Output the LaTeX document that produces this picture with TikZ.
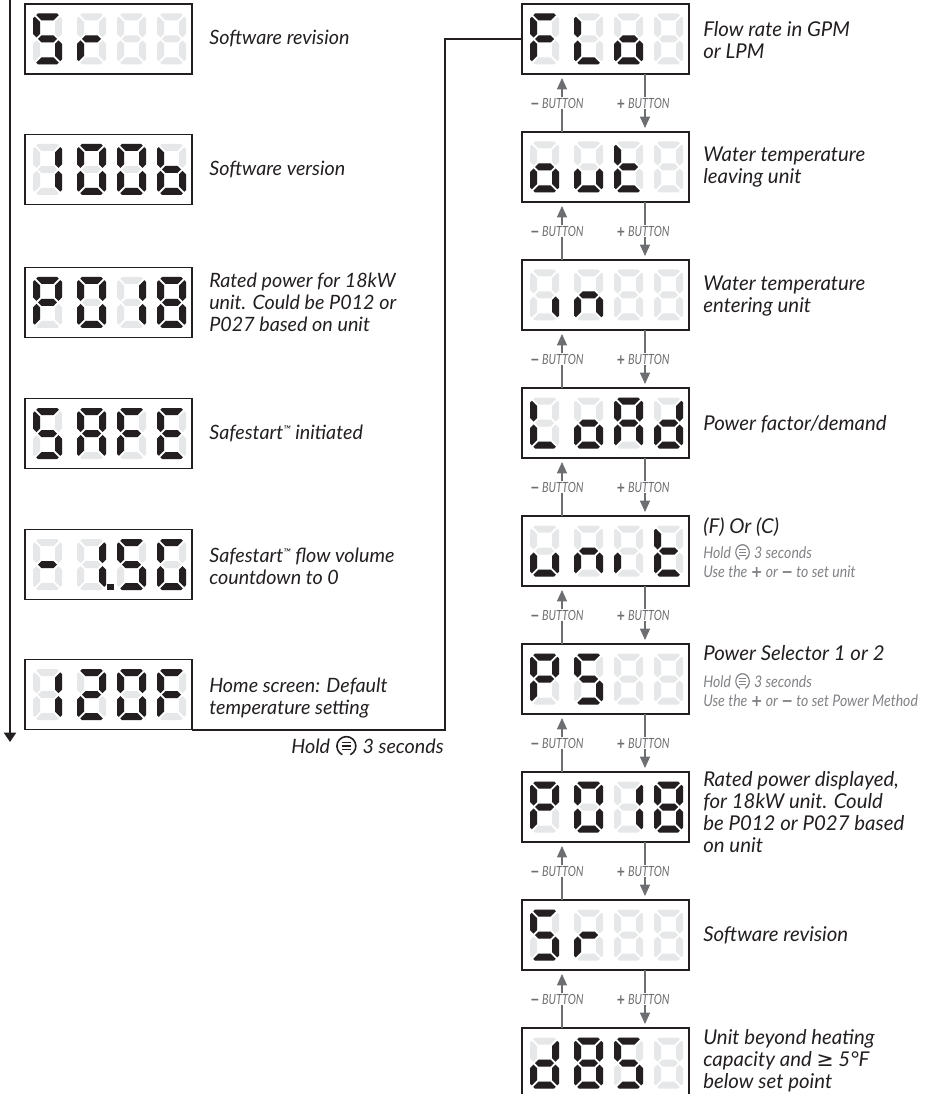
\documentclass[tikz,border=0pt]{standalone}
\usepackage{fontspec}
\setmainfont{Lato}
\newfontfamily\symfont{DejaVu Sans}
\usepackage{graphicx}
\usetikzlibrary{positioning,arrows.meta,calc}

\definecolor{ink}{HTML}{231F20}
\definecolor{segdim}{HTML}{E6E7E8}
\definecolor{btngray}{HTML}{6D6E71}
\definecolor{notegray}{HTML}{808285}

% seven segment outlines, digit box 29 x 51 (px), y grows downward
\newcommand{\defseg}[2]{\expandafter\def\csname segp#1\endcsname{#2}}
\defseg{a}{(3.25,1.75) -- (5,0) -- (24,0) -- (25.75,1.75) -- (20.5,7) -- (8.5,7) -- cycle}
\defseg{g}{(5,25.5) -- (8.5,22) -- (20.5,22) -- (24,25.5) -- (20.5,29) -- (8.5,29) -- cycle}
\defseg{d}{(3.25,49.25) -- (5,51) -- (24,51) -- (25.75,49.25) -- (20.5,44) -- (8.5,44) -- cycle}
\defseg{f}{(0,5) -- (0,20.5) -- (3.5,24) -- (7,20.5) -- (7,8.5) -- (1.75,3.25) -- cycle}
\defseg{e}{(0,46) -- (0,30.5) -- (3.5,27) -- (7,30.5) -- (7,42.5) -- (1.75,47.75) -- cycle}
\defseg{b}{(29,5) -- (29,20.5) -- (25.5,24) -- (22,20.5) -- (22,8.5) -- (27.25,3.25) -- cycle}
\defseg{c}{(29,46) -- (29,30.5) -- (25.5,27) -- (22,30.5) -- (22,42.5) -- (27.25,47.75) -- cycle}
\defseg{n}{}

\newcommand{\desctext}{\fontsize{14.8}{16.5}\selectfont\itshape}
\newcommand{\descrtext}{\fontsize{15.3}{16.6}\selectfont\itshape}
\newcommand{\notetext}{\fontsize{12}{14.25}\selectfont\itshape}
\newcommand{\narrow}[1]{\scalebox{0.88}[1]{#1}}
\newcommand{\tmark}{\raisebox{4.5pt}{\fontsize{8}{8}\selectfont ™}}
\newcommand{\bplus}{{\symfont\bfseries +}}
\newcommand{\bminus}{{\symfont\bfseries −}}
\newcommand{\menuicon}{\tikz[baseline=-0.35em]{%
  \draw[line width=0.08em] (-65:0.48em) arc (-65:245:0.48em);
  \foreach \yy in {-0.18,0,0.18} \draw[line width=0.07em] (-0.24em,\yy em) -- (0.24em,\yy em);}}

\tikzset{
  segon/.style={fill=ink},
  segoff/.style={fill=segdim},
  pics/segdigit/.style={code={
    \foreach \s in {a,b,c,d,e,f,g}{\expandafter\let\expandafter\curseg\csname segp\s\endcsname \fill[segoff] \curseg;}
    \foreach \s in {#1}{\expandafter\let\expandafter\curseg\csname segp\s\endcsname \fill[segon] \curseg;}
  }},
  disp/.style={draw=ink, line width=1.4pt, minimum width=125.25pt, minimum height=52.5pt, inner sep=0pt, outer sep=0pt},
  desc/.style={font=\desctext, text=ink, align=left, inner sep=0pt, anchor=west},
  descr/.style={desc, font=\descrtext},
  note/.style={font=\notetext, text=notegray, inner sep=0pt, anchor=base west},
  flowline/.style={draw=ink, line width=1.5pt},
  btnarrow/.style={draw=btngray, line width=0.8pt, -{Triangle[width=7.5pt,length=8.5pt]}, shorten >=3pt},
  btnlabel/.style={font=\fontsize{10.5}{12}\selectfont\itshape, text=btngray, fill=white, inner sep=1pt}
}

\newcommand{\showdigits}[5]{%
  \pic at ($(#1.north west)+(8,9.5)$) {segdigit={#2}};
  \pic at ($(#1.north west)+(52,9.5)$) {segdigit={#3}};
  \pic at ($(#1.north west)+(92,9.5)$) {segdigit={#4}};
  \pic at ($(#1.north west)+(132,9.5)$) {segdigit={#5}};
}

\begin{document}
\begin{tikzpicture}[x=0.75pt,y=-0.75pt]
  \useasboundingbox (0,0) rectangle (930,1094);

  % start-up sequence
  \node[disp] (lsr) at (108.5,39) {};
  \node[disp] (lver) at (108.5,169.5) {};
  \node[disp] (lrate) at (108.5,302.5) {};
  \node[disp] (lsafe) at (108.5,433.5) {};
  \node[disp] (lcount) at (108.5,564.5) {};
  \node[disp] (lhome) at (108.5,694.5) {};
  \showdigits{lsr}{a,f,g,c,d}{e,g}{n}{n}
  \showdigits{lver}{b,c}{a,b,c,d,e,f}{a,b,c,d,e,f}{c,d,e,f,g}
  \showdigits{lrate}{a,b,e,f,g}{a,b,c,d,e,f}{b,c}{a,b,c,d,e,f,g}
  \showdigits{lsafe}{a,f,g,c,d}{a,b,c,e,f,g}{a,e,f,g}{a,d,e,f,g}
  \showdigits{lcount}{g}{b,c}{a,f,g,c,d}{a,c,d,e,f}
  \fill[segon] ($(lcount.north west)+(82,54)$) rectangle +(6.5,6.5);
  \showdigits{lhome}{b,c}{a,b,g,e,d}{a,b,c,d,e,f}{a,e,f,g}

  \node[desc] (tsr) at (209,39) {Software revision};
  \node[desc] (tver) at (209,169.5) {Software version};
  \node[desc] (trate) at (209,302.5) {Rated power for 18kW\\unit. Could be P012 or\\P027 based on unit};
  \node[desc] (tsafe) at (209,433.5) {Safestart\tmark\ initiated};
  \node[desc] (tcount) at (209,566) {Safestart\tmark\ flow volume\\countdown to 0};
  \node[desc] (thome) at (209,698) {Home screen: Default\\temperature setting};

  \coordinate (ltop) at (10,0);
  \coordinate (lend) at (10,742);
  \draw[flowline,-{Triangle[width=9pt,length=7pt]}] (ltop) -- (lend);

  % menu list
  \node[disp] (flo) at (605.5,39) {};
  \node[disp] (outw) at (605.5,167) {};
  \node[disp] (inw) at (605.5,295) {};
  \node[disp] (load) at (605.5,423) {};
  \node[disp] (unit) at (605.5,551) {};
  \node[disp] (psel) at (605.5,679) {};
  \node[disp] (rpow) at (605.5,807) {};
  \node[disp] (srev) at (605.5,935) {};
  \node[disp] (dbs) at (605.5,1063) {};
  \showdigits{flo}{a,e,f,g}{d,e,f}{c,d,e,g}{n}
  \showdigits{outw}{c,d,e,g}{c,d,e}{d,e,f,g}{n}
  \showdigits{inw}{c}{c,e,g}{n}{n}
  \showdigits{load}{d,e,f}{c,d,e,g}{a,b,c,e,f,g}{b,c,d,e,g}
  \showdigits{unit}{c,d,e}{c,e,g}{e}{d,e,f,g}
  \showdigits{psel}{a,b,e,f,g}{a,f,g,c,d}{n}{n}
  \showdigits{rpow}{a,b,e,f,g}{a,b,c,d,e,f}{b,c}{a,b,c,d,e,f,g}
  \showdigits{srev}{a,f,g,c,d}{e,g}{n}{n}
  \showdigits{dbs}{b,c,d,e,g}{a,b,c,d,e,f,g}{a,f,g,c,d}{n}

  \draw[flowline] (lhome.south east) -- ++(253,0) |- (flo.west);
  \node[font=\desctext, text=ink, inner sep=0pt, anchor=base east] (hold) at (444,753) {Hold \menuicon\ 3 seconds};

  \foreach \a/\b in {flo/outw,outw/inw,inw/load,load/unit,unit/psel,psel/rpow,rpow/srev,srev/dbs}{
    \draw[btnarrow] ($(\b.north)+(-43.5,0)$) -- ($(\a.south)+(-43.5,0)$)
      node[btnlabel, midway, xshift=-3.75pt] {\scalebox{0.78}[1]{\bminus\ BUTTON}};
    \draw[btnarrow] ($(\a.south)+(39.5,0)$) -- ($(\b.north)+(39.5,0)$)
      node[btnlabel, midway, xshift=-1.5pt] {\scalebox{0.78}[1]{\bplus\ BUTTON}};
  }

  \node[descr] (tflo) at (703,40) {Flow rate in GPM\\or LPM};
  \node[descr] (toutw) at (703,167) {Water temperature\\leaving unit};
  \node[descr] (tinw) at (703,296) {Water temperature\\entering unit};
  \node[descr] (tload) at (703,424) {Power factor/demand};
  \node[descr, anchor=base west] (tunit) at (703,533) {(F) Or (C)};
  \node[note] (hunit) at (703,558) {\narrow{Hold \menuicon\ 3 seconds}};
  \node[note] (uunit) at (703,577) {\narrow{Use the \bplus\ or \bminus\ to set unit}};
  \node[descr, anchor=base west] (tpsel) at (703,660) {Power Selector 1 or 2};
  \node[note] (hpsel) at (703,687) {\narrow{Hold \menuicon\ 3 seconds}};
  \node[note] (upsel) at (703,706) {\narrow{Use the \bplus\ or \bminus\ to set Power Method}};
  \node[descr, anchor=north west] (trpow) at (703,771) {Rated power displayed,\\for 18kW unit. Could\\be P012 or P027 based\\on unit};
  \node[descr] (tsrev) at (703,935) {Software revision};
  \node[descr, anchor=north west] (tdbs) at (703,1029) {Unit beyond heating\\capacity and {\symfont ≥} 5°F\\below set point};
\end{tikzpicture}
\end{document}
